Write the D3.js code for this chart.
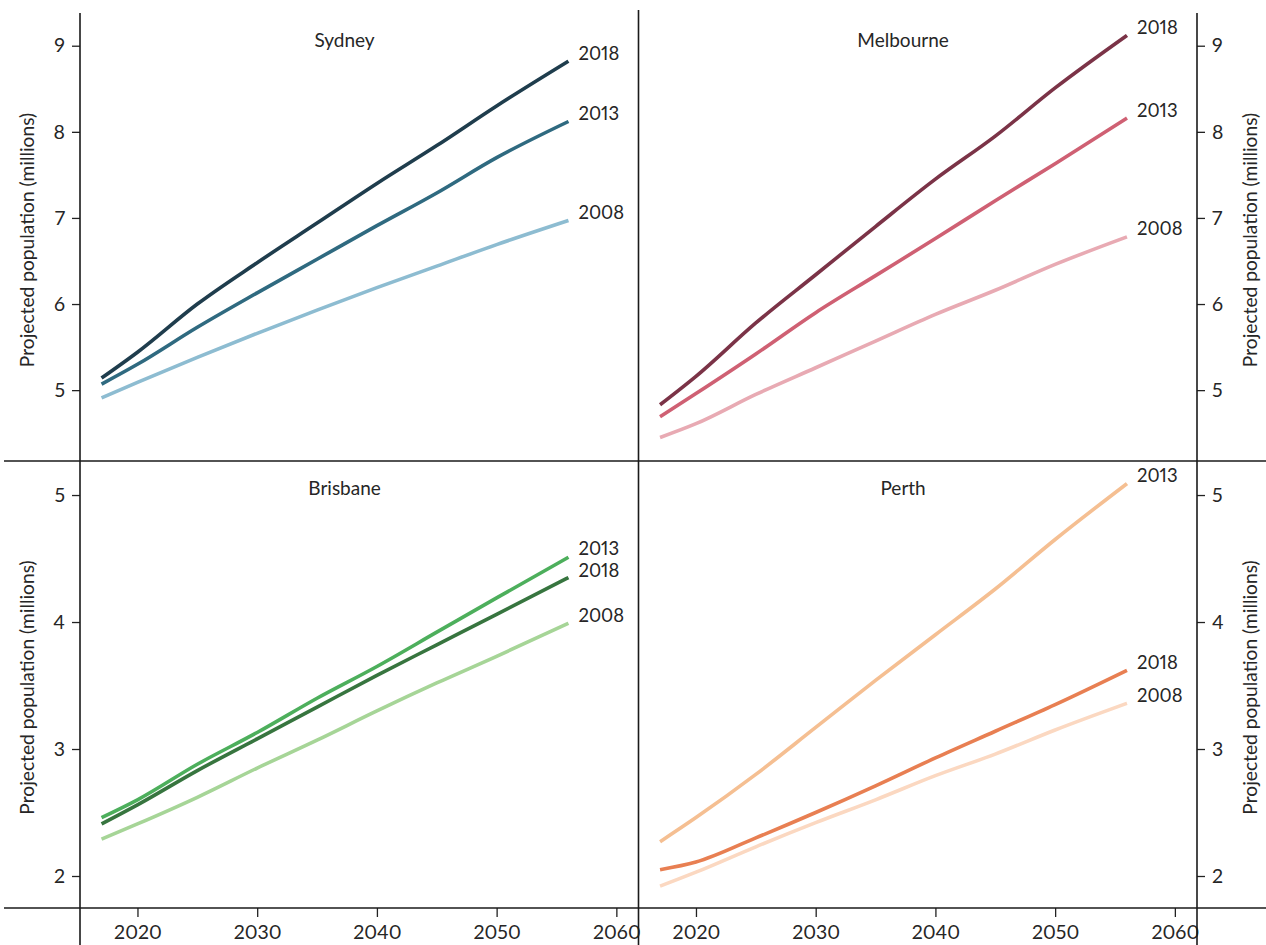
<!DOCTYPE html>
<html>
<head>
<meta charset="utf-8">
<script src="https://cdn.jsdelivr.net/npm/d3@7"></script>
<style>
  html, body { margin: 0; padding: 0; background: #fff; }
  svg { display: block; }
  text { font-family: Lato, "Open Sans", sans-serif; fill: #262626; font-variant-numeric: proportional-nums; }
</style>
</head>
<body>
<svg id="chart" width="1266" height="945"></svg>
<script>
// ---- data ----
const years = [2017, 2020, 2025, 2030, 2035, 2040, 2045, 2050, 2056];
const xTicks = [2020, 2030, 2040, 2050, 2060];
const yTicksTop = [5, 6, 7, 8, 9];
const yTicksBottom = [2, 3, 4, 5];
const vintages = ["2018", "2013", "2008"];

const sydney2018 = [5.14, 5.44, 6.00, 6.48, 6.94, 7.40, 7.84, 8.30, 8.82];
const sydney2013 = [5.07, 5.30, 5.73, 6.13, 6.52, 6.91, 7.29, 7.70, 8.12];
const sydney2008 = [4.91, 5.09, 5.38, 5.66, 5.93, 6.19, 6.44, 6.69, 6.97];

const melbourne2018 = [4.83, 5.16, 5.78, 6.34, 6.90, 7.45, 7.95, 8.51, 9.12];
const melbourne2013 = [4.69, 4.96, 5.42, 5.90, 6.33, 6.76, 7.20, 7.63, 8.16];
const melbourne2008 = [4.45, 4.61, 4.95, 5.26, 5.57, 5.88, 6.16, 6.46, 6.78];

const brisbane2018 = [2.41, 2.56, 2.83, 3.08, 3.33, 3.58, 3.82, 4.06, 4.35];
const brisbane2013 = [2.46, 2.60, 2.88, 3.13, 3.40, 3.65, 3.92, 4.19, 4.51];
const brisbane2008 = [2.29, 2.41, 2.62, 2.85, 3.07, 3.30, 3.52, 3.73, 3.99];

const perth2018 = [2.05, 2.11, 2.30, 2.50, 2.71, 2.93, 3.14, 3.35, 3.62];
const perth2013 = [2.27, 2.46, 2.80, 3.17, 3.54, 3.90, 4.26, 4.65, 5.09];
const perth2008 = [1.92, 2.03, 2.23, 2.42, 2.60, 2.79, 2.96, 3.15, 3.36];

const cities = ["Sydney", "Melbourne", "Brisbane", "Perth"];
const cityData = {
  Sydney:    {"2018": sydney2018,    "2013": sydney2013,    "2008": sydney2008},
  Melbourne: {"2018": melbourne2018, "2013": melbourne2013, "2008": melbourne2008},
  Brisbane:  {"2018": brisbane2018,  "2013": brisbane2013,  "2008": brisbane2008},
  Perth:     {"2018": perth2018,     "2013": perth2013,     "2008": perth2008}
};
const cityColors = {
  Sydney:    {"2018": "#1f3d4d", "2013": "#2f6a80", "2008": "#8dbcd1"},
  Melbourne: {"2018": "#7b3347", "2013": "#cf6073", "2008": "#e8aab3"},
  Brisbane:  {"2018": "#37753f", "2013": "#4daf5c", "2008": "#a6d597"},
  Perth:     {"2018": "#e87f52", "2013": "#f5bf92", "2008": "#fbd8c1"}
};

// ---- layout ----
const svg = d3.select("#chart");
const W = 1266, H = 945;
const xL = 80, xM = 638.5, xR = 1197;
const yT = 13, yMid = 461, yB = 908;
const xDomain = [2015.2, 2061.85];

const panels = [
  {city: "Sydney",    x0: xL, x1: xM, y0: yT,   y1: yMid, yDom: [4.177, 9.38],  ticks: yTicksTop,    side: "left"},
  {city: "Melbourne", x0: xM, x1: xR, y0: yT,   y1: yMid, yDom: [4.177, 9.38],  ticks: yTicksTop,    side: "right"},
  {city: "Brisbane",  x0: xL, x1: xM, y0: yMid, y1: yB,   yDom: [1.748, 5.268], ticks: yTicksBottom, side: "left"},
  {city: "Perth",     x0: xM, x1: xR, y0: yMid, y1: yB,   yDom: [1.748, 5.268], ticks: yTicksBottom, side: "right"}
];

const fontTick = 19.5;
const fontFam = "Lato, 'Open Sans', sans-serif";
const labelSize = 18.5;
const minGap = 22.5;

panels.forEach(p => {
  const x = d3.scaleLinear().domain(xDomain).range([p.x0, p.x1]);
  const y = d3.scaleLinear().domain(p.yDom).range([p.y1, p.y0]);
  const g = svg.append("g");

  // lines
  const line = d3.line().curve(d3.curveMonotoneX).x((d, i) => x(years[i])).y(d => y(d));
  vintages.slice().reverse().forEach(v => {
    g.append("path")
      .datum(cityData[p.city][v])
      .attr("fill", "none")
      .attr("stroke", cityColors[p.city][v])
      .attr("stroke-width", 3.6)
      .attr("stroke-linejoin", "round")
      .attr("d", line);
  });

  // end labels with simple collision avoidance
  const labels = vintages.map(v => {
    const arr = cityData[p.city][v];
    return {v, ly: y(arr[arr.length - 1]) - 8};
  }).sort((a, b) => a.ly - b.ly);
  for (let i = 1; i < labels.length; i++) {
    const gap = labels[i].ly - labels[i - 1].ly;
    if (gap < minGap) {
      const shift = (minGap - gap) / 2;
      labels[i - 1].ly -= shift;
      labels[i].ly += shift;
    }
  }
  labels.forEach(l => {
    g.append("text")
      .attr("x", x(years[years.length - 1]) + 10)
      .attr("y", l.ly)
      .attr("dy", "0.35em")
      .attr("font-size", labelSize)
      .text(l.v);
  });

  // title
  g.append("text")
    .attr("x", x(2037.3))
    .attr("y", p.y0 === yT ? 40 : 488)
    .attr("dy", "0.35em")
    .attr("text-anchor", "middle")
    .attr("font-size", 19)
    .text(p.city);

  // y axis
  const yAxis = (p.side === "left" ? d3.axisLeft(y) : d3.axisRight(y))
    .tickValues(p.ticks).tickSize(8).tickPadding(7).tickFormat(d3.format("d"));
  const ag = g.append("g")
    .attr("transform", `translate(${p.side === "left" ? xL : xR},0)`)
    .call(yAxis);
  ag.select(".domain").remove();
  ag.selectAll(".tick line").attr("stroke", "#222").attr("stroke-width", 1.3);
  ag.selectAll(".tick text").attr("font-size", fontTick).attr("fill", "#262626")
    .style("font-family", fontFam);

  // y axis title
  const tx = p.side === "left" ? 27 : 1250;
  g.append("text")
    .attr("transform", `translate(${tx},${(p.y0 + p.y1) / 2 + 3}) rotate(-90)`)
    .attr("text-anchor", "middle")
    .attr("dy", "0.35em")
    .attr("font-size", 19.2)
    .text("Projected population (millions)");

  // x axis (bottom row only)
  if (p.y1 === yB) {
    const xAxis = d3.axisBottom(x).tickValues(xTicks).tickSize(9).tickPadding(8).tickFormat(d3.format("d"));
    const xg = g.append("g").attr("transform", `translate(0,${yB})`).call(xAxis);
    xg.select(".domain").remove();
    xg.selectAll(".tick line").attr("stroke", "#222").attr("stroke-width", 1.3);
    xg.selectAll(".tick text").attr("font-size", fontTick).attr("fill", "#262626")
      .style("font-family", fontFam);
  }
});

// frame lines
const frame = svg.append("g").attr("stroke", "#1a1a1a").attr("stroke-width", 1.6);
frame.append("line").attr("x1", xL).attr("x2", xL).attr("y1", yT).attr("y2", H);
frame.append("line").attr("x1", xM).attr("x2", xM).attr("y1", 10).attr("y2", H);
frame.append("line").attr("x1", xR).attr("x2", xR).attr("y1", yT).attr("y2", H);
frame.append("line").attr("x1", 4).attr("x2", W).attr("y1", yMid).attr("y2", yMid);
frame.append("line").attr("x1", 4).attr("x2", W).attr("y1", yB).attr("y2", yB);
</script>
</body>
</html>
